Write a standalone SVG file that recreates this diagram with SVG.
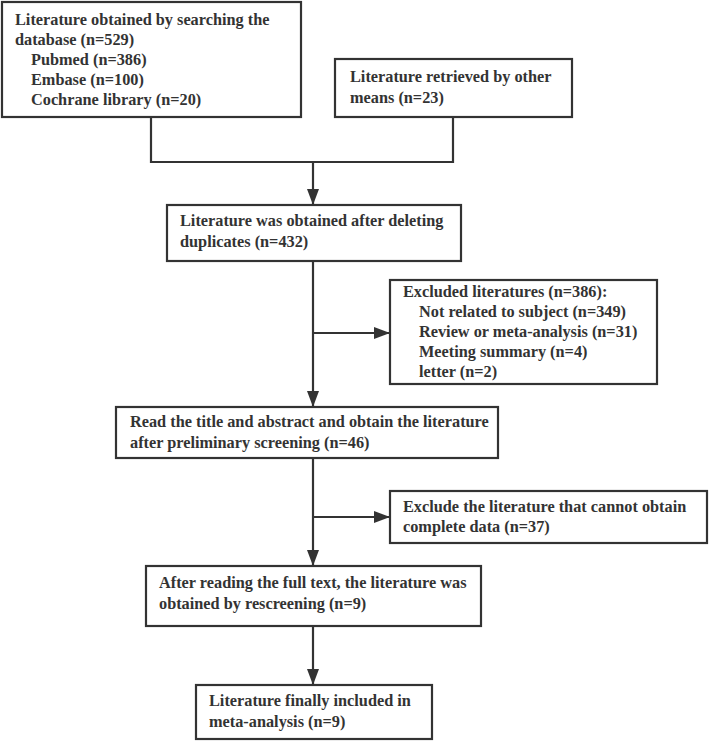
<svg xmlns="http://www.w3.org/2000/svg" width="709" height="742" viewBox="0 0 709 742">
<style>
.box{fill:#fff;stroke:#333;stroke-width:2.2}
.t{font-family:"Liberation Serif","Times New Roman",serif;font-weight:bold;font-size:16.3px;fill:#333}
.ln{fill:none;stroke:#333;stroke-width:2.2}
</style>
<defs>
<marker id="ah" viewBox="0 0 16 12" refX="16" refY="6" markerWidth="16" markerHeight="12" markerUnits="userSpaceOnUse" orient="auto">
<path d="M0,0 L16,6 L0,12 Z" fill="#333"/>
</marker>
</defs>
<rect width="709" height="742" fill="#fff"/>
<g id="connectors">
<polyline class="ln" points="151,117 151,162 453,162 453,117"/>
<line class="ln" x1="313" y1="162" x2="313" y2="205" marker-end="url(#ah)"/>
<line class="ln" x1="313" y1="261" x2="313" y2="407" marker-end="url(#ah)"/>
<line class="ln" x1="313" y1="333" x2="390" y2="333" marker-end="url(#ah)"/>
<line class="ln" x1="313" y1="458" x2="313" y2="566" marker-end="url(#ah)"/>
<line class="ln" x1="313" y1="517" x2="390" y2="517" marker-end="url(#ah)"/>
<line class="ln" x1="313" y1="626" x2="313" y2="685" marker-end="url(#ah)"/>
</g>
<g id="n1">
<rect class="box" x="2" y="2" width="299" height="115"/>
<text class="t" x="15" y="25">Literature obtained by searching the</text>
<text class="t" x="15" y="45">database (n=529)</text>
<text class="t" x="31" y="65">Pubmed (n=386)</text>
<text class="t" x="31" y="85">Embase (n=100)</text>
<text class="t" x="31" y="105">Cochrane library (n=20)</text>
</g>
<g id="n2">
<rect class="box" x="335" y="59" width="237" height="58"/>
<text class="t" x="350" y="82">Literature retrieved by other</text>
<text class="t" x="350" y="103">means (n=23)</text>
</g>
<g id="n3">
<rect class="box" x="167" y="205" width="294" height="56"/>
<text class="t" x="180" y="226">Literature was obtained after deleting</text>
<text class="t" x="180" y="247">duplicates (n=432)</text>
</g>
<g id="n4">
<rect class="box" x="390" y="280" width="267" height="104"/>
<text class="t" x="403" y="297">Excluded literatures (n=386):</text>
<text class="t" x="419" y="317">Not related to subject (n=349)</text>
<text class="t" x="419" y="337">Review or meta-analysis (n=31)</text>
<text class="t" x="419" y="357">Meeting summary (n=4)</text>
<text class="t" x="419" y="377">letter (n=2)</text>
</g>
<g id="n5">
<rect class="box" x="116" y="407" width="382" height="51"/>
<text class="t" x="130" y="427">Read the title and abstract and obtain the literature</text>
<text class="t" x="130" y="448">after preliminary screening (n=46)</text>
</g>
<g id="n6">
<rect class="box" x="390" y="491" width="317" height="52"/>
<text class="t" x="403" y="512">Exclude the literature that cannot obtain</text>
<text class="t" x="403" y="532">complete data (n=37)</text>
</g>
<g id="n7">
<rect class="box" x="146" y="566" width="335" height="60"/>
<text class="t" x="159" y="588">After reading the full text, the literature was</text>
<text class="t" x="159" y="609">obtained by rescreening (n=9)</text>
</g>
<g id="n8">
<rect class="box" x="196" y="685" width="236" height="54"/>
<text class="t" x="209" y="706">Literature finally included in</text>
<text class="t" x="209" y="727">meta-analysis (n=9)</text>
</g>
</svg>
